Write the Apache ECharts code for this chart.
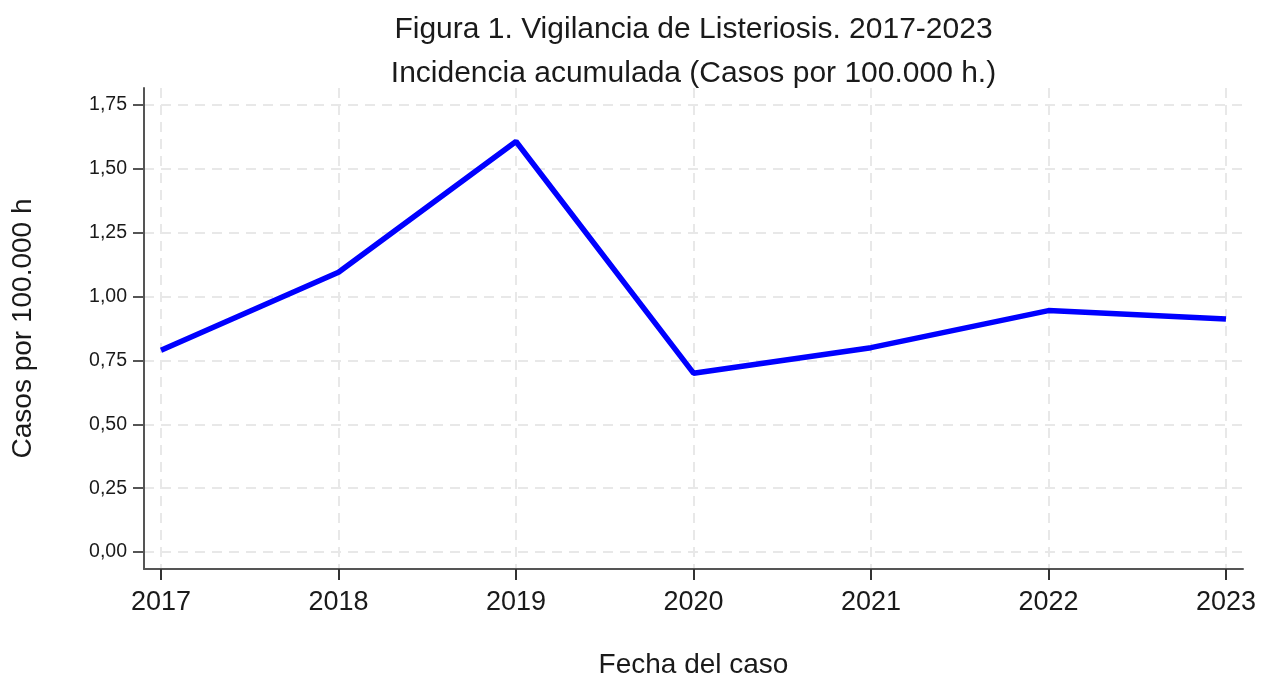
<!DOCTYPE html>
<html>
<head>
<meta charset="utf-8">
<script src="https://cdn.jsdelivr.net/npm/echarts@6/dist/echarts.min.js"></script>
<style>html,body{margin:0;padding:0;background:#fff}#chart{width:1272px;height:677px}</style>
</head>
<body>
<div id="chart"></div>
<script>
const years = [2017, 2018, 2019, 2020, 2021, 2022, 2023];
const incidence = [0.79, 1.095, 1.607, 0.70, 0.80, 0.945, 0.912];
const yTicks = [0, 0.25, 0.5, 0.75, 1.0, 1.25, 1.5, 1.75];
const titleText = 'Figura 1. Vigilancia de Listeriosis. 2017-2023\nIncidencia acumulada (Casos por 100.000 h.)';
const xName = 'Fecha del caso';
const yName = 'Casos por 100.000 h';

const font = '"Liberation Sans", Arial, sans-serif';
const chart = echarts.init(document.getElementById('chart'), null, {renderer: 'canvas'});
chart.setOption({
  backgroundColor: '#fff',
  animation: false,
  textStyle: {fontFamily: font},
  graphic: [{
    type: 'text', x: 693.5, y: 8, silent: true,
    style: {text: titleText, fill: '#1a1a1a', font: '30px ' + font, textAlign: 'center', textVerticalAlign: 'top', lineHeight: 44}
  }],
  grid: {left: 144, right: 29, top: 88, bottom: 108, containLabel: false, outerBoundsMode: 'none'},
  xAxis: {
    type: 'value', min: 2016.904, max: 2023.096,
    name: xName, nameLocation: 'middle', nameGap: 82,
    nameTextStyle: {fontFamily: font, fontSize: 28, color: '#1a1a1a'},
    axisLine: {show: true, onZero: false, lineStyle: {color: '#555', width: 2}},
    axisTick: {show: true, length: 11, customValues: years, lineStyle: {color: '#333', width: 2}},
    axisLabel: {customValues: years, margin: 20, fontFamily: font, fontSize: 27, color: '#1a1a1a', formatter: v => String(v)},
    splitLine: {show: true, lineStyle: {color: '#e8e8e8', width: 2, type: [10, 7]}}
  },
  yAxis: {
    type: 'value', min: -0.0665, max: 1.8165,
    name: yName, nameLocation: 'middle', nameGap: 107,
    nameTextStyle: {fontFamily: font, fontSize: 28, color: '#1a1a1a'},
    axisLine: {show: true, onZero: false, lineStyle: {color: '#555', width: 2}},
    axisTick: {show: true, length: 11, customValues: yTicks, lineStyle: {color: '#555', width: 2}},
    axisLabel: {customValues: yTicks, margin: 17, fontFamily: font, fontSize: 19.5, color: '#1a1a1a',
      formatter: v => v.toFixed(2).replace('.', ',')},
    splitLine: {show: true, lineStyle: {color: '#e8e8e8', width: 2, type: [10, 7]}}
  },
  series: [{
    type: 'line',
    data: years.map((y, i) => [y, incidence[i]]),
    symbol: 'none',
    lineStyle: {color: '#0000ff', width: 5.5},
    itemStyle: {color: '#0000ff'}
  }]
});
</script>
</body>
</html>
